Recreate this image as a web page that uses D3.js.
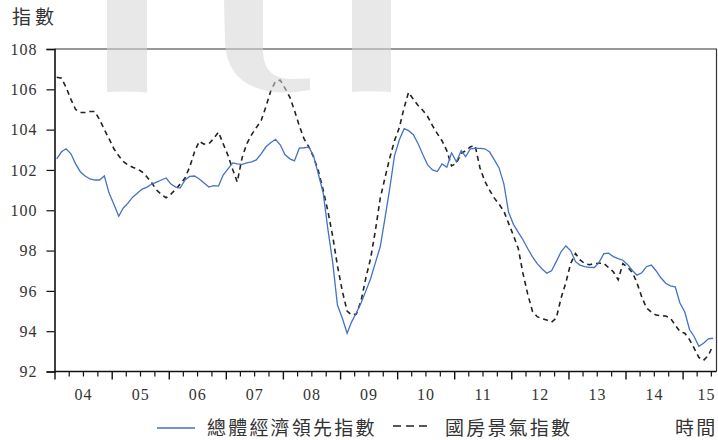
<!DOCTYPE html>
<html>
<head>
<meta charset="utf-8">
<script src="https://cdn.jsdelivr.net/npm/d3@7"></script>
<style>
  html, body { margin: 0; padding: 0; background: #fff; }
  svg { display: block; }
  .num { font-family: "Liberation Serif", "Times New Roman", serif; font-size: 16px; letter-spacing: 1px; fill: #333; }
  .cjk { font-family: "Noto Sans CJK TC", "Noto Sans CJK SC", sans-serif; font-size: 19px; fill: #333; }
</style>
</head>
<body>
<svg id="chart" width="718" height="440"></svg>
<script>
// Year labels along the time axis (2004 - 2015)
const startYear = 2004;
const yearLabels = ['04','05','06','07','08','09','10','11','12','13','14','15'];
const yTicks = [92, 94, 96, 98, 100, 102, 104, 106, 108];

// Monthly series, Jan 2004 - Jul 2015
const leadIndex = [
  102.55, 102.9, 103.05, 102.8, 102.3, 101.9, 101.7, 101.55, 101.5, 101.5, 101.7, 100.85,
  100.3, 99.7, 100.1, 100.35, 100.65, 100.85, 101.05, 101.15, 101.3, 101.4, 101.5, 101.6,
  101.3, 101.15, 101.1, 101.5, 101.68, 101.7, 101.55, 101.35, 101.15, 101.22, 101.2, 101.75,
  102.05, 102.35, 102.3, 102.28, 102.35, 102.4, 102.5, 102.8, 103.15, 103.35, 103.52, 103.25,
  102.75, 102.55, 102.45, 103.08, 103.1, 103.13, 102.7, 101.8, 100.85, 99.05, 97.4, 95.3,
  94.65, 93.9, 94.45, 94.9, 95.4, 96.0, 96.6, 97.4, 98.2, 99.6, 101.1, 102.7,
  103.5, 104.05, 103.95, 103.75, 103.3, 102.75, 102.25, 102.0, 101.92, 102.3, 102.13, 102.85,
  102.4, 102.96, 102.66, 103.05, 103.07, 103.07, 103.05, 102.9, 102.5, 102.1, 101.3, 99.9,
  99.3, 98.9, 98.55, 98.1, 97.7, 97.35, 97.1, 96.88, 97.0, 97.45, 97.95, 98.23,
  98.0, 97.45, 97.28, 97.2, 97.17, 97.16, 97.4, 97.85, 97.87, 97.7, 97.6, 97.52,
  97.3, 97.0, 96.78, 96.9, 97.2, 97.28, 97.0, 96.65, 96.38, 96.25, 96.2, 95.4,
  94.95, 94.07, 93.75, 93.25, 93.4, 93.62, 93.65
];

const houseIndex = [
  106.6, 106.55, 106.1, 105.5, 105.0, 104.85, 104.85, 104.9, 104.9, 104.5, 104.0, 103.55,
  103.05, 102.7, 102.42, 102.25, 102.13, 102.05, 101.9, 101.65, 101.35, 101.0, 100.78, 100.62,
  100.8, 101.05, 101.3, 101.6, 102.15, 102.9, 103.42, 103.28, 103.3, 103.55, 103.88, 103.3,
  102.72, 102.0, 101.4, 102.6, 103.3, 103.75, 104.1, 104.45, 105.15, 105.9, 106.4, 106.45,
  106.05, 105.6, 104.95, 104.2, 103.55, 103.15, 102.65, 101.95, 101.0, 99.95, 98.7, 97.25,
  96.0, 95.0, 94.8, 94.85, 95.5, 96.65, 97.6, 99.0, 100.6, 101.6, 102.6, 103.45,
  104.1, 105.1, 105.85, 105.5, 105.2, 104.95, 104.65, 104.2, 103.8, 103.45, 102.95, 102.2,
  102.33, 102.83, 102.95, 103.15, 103.2, 102.1, 101.45, 101.0, 100.6, 100.3, 99.95, 99.35,
  98.75, 98.1, 96.9, 95.85, 95.0, 94.72, 94.62, 94.55, 94.45, 94.65, 95.65, 96.4,
  97.35, 97.85, 97.55, 97.35, 97.3, 97.35, 97.37, 97.37, 97.15, 96.95, 96.55, 97.35,
  97.17, 96.9, 96.4, 95.7, 95.15, 94.95, 94.8, 94.77, 94.75, 94.65, 94.3, 93.98,
  93.9, 93.57, 93.17, 92.7, 92.55, 92.8, 93.3
];

const seriesNames = ['總體經濟領先指數', '國房景氣指數'];
const yAxisTitle = '指數';
const xAxisTitle = '時間';

const svg = d3.select('#chart');
const plotL = 54.5, plotR = 716.5, plotT = 49, plotB = 371.5;

const months = leadIndex.map((_, i) => new Date(startYear, i, 15));
const x = d3.scaleTime()
  .domain([new Date(startYear, 0, 1), new Date(2015, 7, 6)])
  .range([plotL, plotR]);
const y = d3.scaleLinear().domain([92, 108]).range([plotB, plotT]);

// frame: top and right edges
svg.append('path')
  .attr('d', `M${plotL},${plotT}H${plotR}V${plotB}`)
  .attr('fill', 'none').attr('stroke', '#333').attr('stroke-width', 1.2);

// y axis
const yAxis = svg.append('g')
  .attr('transform', `translate(${plotL},0)`)
  .call(d3.axisLeft(y).tickValues(yTicks).tickSize(8).tickPadding(9).tickFormat(d3.format('d')));
yAxis.attr('font-family', null).attr('font-size', null);
yAxis.select('.domain').attr('stroke', '#111').attr('stroke-width', 1.6);
yAxis.selectAll('.tick line').attr('stroke', '#111').attr('stroke-width', 1.2);
yAxis.selectAll('.tick text').attr('class', 'num').attr('fill', '#333');

// x axis: quarter minor ticks, year major ticks, labels at mid-year
const yearStarts = d3.range(yearLabels.length).map(k => new Date(startYear + k, 0, 1));
const quarterTicks = [];
for (let k = 0; k < yearLabels.length; k++) {
  for (let q = 1; q < 4; q++) {
    const d = new Date(startYear + k, q * 3, 1);
    if (d < x.domain()[1]) quarterTicks.push(d);
  }
}
const xg = svg.append('g').attr('transform', `translate(0,${plotB})`);
const minor = xg.append('g')
  .call(d3.axisBottom(x).tickValues(quarterTicks).tickSize(5).tickFormat(''));
minor.select('.domain').remove();
minor.selectAll('.tick line').attr('stroke', '#111').attr('stroke-width', 1.2);

const major = xg.append('g')
  .call(d3.axisBottom(x).tickValues(yearStarts).tickSize(8).tickFormat(''));
major.select('.domain').remove();
major.selectAll('.tick line').attr('stroke', '#111').attr('stroke-width', 1.4);

const midYears = d3.range(yearLabels.length).map(k => new Date(startYear + k, 6, 2));
const labels = xg.append('g')
  .call(d3.axisBottom(x).tickValues(midYears).tickSize(0).tickPadding(17)
    .tickFormat((d, i) => yearLabels[i]));
labels.attr('font-family', null).attr('font-size', null);
labels.select('.domain').remove();
labels.selectAll('.tick text').attr('class', 'num').attr('fill', '#333');
// the final (partial) year label is pulled in to stay inside the frame
labels.selectAll('.tick text').filter((d, i) => i === yearLabels.length - 1).attr('dx', -5);

xg.append('line')
  .attr('x1', plotL).attr('x2', plotR).attr('y1', 0).attr('y2', 0)
  .attr('stroke', '#111').attr('stroke-width', 1.6);

// series lines
const line = d3.line().x((d, i) => x(months[i])).y(d => y(d));

svg.append('path')
  .datum(houseIndex)
  .attr('d', line)
  .attr('fill', 'none')
  .attr('stroke', '#222')
  .attr('stroke-width', 1.6)
  .attr('stroke-dasharray', '5,4');

svg.append('path')
  .datum(leadIndex)
  .attr('d', line)
  .attr('fill', 'none')
  .attr('stroke', '#4472c4')
  .attr('stroke-width', 1.3);

// light background mark near the top
const mark = svg.append('g').attr('fill', '#d6d6d6').attr('opacity', 0.55);
mark.append('path').attr('d', 'M107,0H147V92.5Q127,91 107,92Z');
mark.append('path').attr('d', 'M224,0H263V52Q264,79 291,79L310,78.5V90Q296,92.5 282,92.5Q227,90 225,42Z');
mark.append('path').attr('d', 'M352,0H391V92Q371,90.5 352,92Z');

// titles
svg.append('text').attr('class', 'cjk').attr('x', 12).attr('y', 24)
  .style('letter-spacing', '4px').text(yAxisTitle);

// legend
const ly = 428;
svg.append('line').attr('x1', 157).attr('x2', 195).attr('y1', ly).attr('y2', ly)
  .attr('stroke', '#4472c4').attr('stroke-width', 1.3);
svg.append('text').attr('class', 'cjk').attr('x', 207).attr('y', ly + 7)
  .style('letter-spacing', '2.2px').text(seriesNames[0]);
svg.append('line').attr('x1', 393).attr('x2', 428).attr('y1', ly - 2).attr('y2', ly - 2)
  .attr('stroke', '#222').attr('stroke-width', 1.6).attr('stroke-dasharray', '8,5');
svg.append('text').attr('class', 'cjk').attr('x', 445).attr('y', ly + 7)
  .style('letter-spacing', '2.2px').text(seriesNames[1]);
svg.append('text').attr('class', 'cjk').attr('x', 675).attr('y', ly + 7)
  .style('letter-spacing', '2.2px').text(xAxisTitle);
</script>
</body>
</html>
